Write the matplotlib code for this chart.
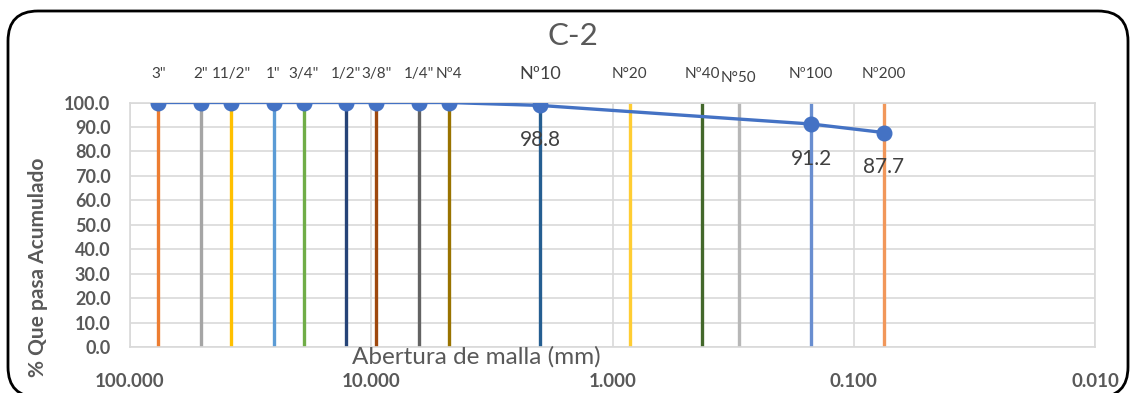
import matplotlib
matplotlib.use("Agg")
import matplotlib.pyplot as plt
from matplotlib.patches import FancyBboxPatch
from matplotlib.ticker import FixedLocator, NullLocator

# Tamices y abertura (mm)
sieve_names = ['3"', '2"', '11/2"', '1"', '3/4"', '1/2"', '3/8"', '1/4"', 'Nº4',
               'Nº10', 'N°20', 'Nº40', 'N°50', 'Nº100', 'Nº200']
sieve_mm = [76.2, 50.8, 38.1, 25.4, 19.05, 12.7, 9.525, 6.35, 4.76,
            2.0, 0.85, 0.425, 0.3, 0.15, 0.075]
sieve_colors = ['#ED7D31', '#A5A5A5', '#FFC000', '#5B9BD5', '#70AD47', '#264478',
                '#9E480E', '#636363', '#997300', '#255E91', '#FFCD33', '#43682B',
                '#B7B7B7', '#698ED0', '#F1975A']

# Curva granulometrica C-2
curve_mm = [76.2, 50.8, 38.1, 25.4, 19.05, 12.7, 9.525, 6.35, 4.76, 2.0, 0.15, 0.075]
curve_pass = [100.0, 100.0, 100.0, 100.0, 100.0, 100.0, 100.0, 100.0, 100.0, 98.8, 91.2, 87.7]
labeled_mm = [2.0, 0.15, 0.075]
labeled_pass = [98.8, 91.2, 87.7]

x_ticks = [100, 10, 1, 0.1, 0.01]
y_ticks = [0, 10, 20, 30, 40, 50, 60, 70, 80, 90, 100]

plt.rcParams['font.family'] = ['Lato', 'DejaVu Sans']

W, H = 1131, 393
fig = plt.figure(figsize=(W / 100, H / 100), dpi=100)

# capa de fondo en pixeles para el marco
bg = fig.add_axes([0, 0, 1, 1])
bg.set_xlim(0, W)
bg.set_ylim(0, H)
bg.axis('off')
bg.add_patch(FancyBboxPatch((8, -4), 1120, H - 11 + 4,
                            boxstyle='round,pad=0,rounding_size=30',
                            fill=False, ec='black', lw=2, clip_on=False))

ax = fig.add_axes([130 / W, 1 - 347 / H, 965 / W, 244.5 / H])
ax.patch.set_alpha(0)

grid_c = '#D9D9D9'
ax.set_xscale('log')
ax.set_xlim(100, 0.01)
ax.set_ylim(0, 100)
ax.xaxis.set_major_locator(FixedLocator(x_ticks))
ax.xaxis.set_minor_locator(NullLocator())
ax.set_yticks(y_ticks)
ax.set_xticklabels([f'{v:.3f}' for v in x_ticks])
ax.set_yticklabels([f'{v:.1f}' for v in y_ticks])
ax.grid(True, color=grid_c, lw=1.2)
for s in ax.spines.values():
    s.set_color(grid_c)
    s.set_linewidth(1.2)
ax.tick_params(length=0, colors='#595959')
ax.tick_params(axis='x', pad=19, labelsize=13.5)
ax.tick_params(axis='y', pad=14, labelsize=13)
for t in ax.get_xticklabels() + ax.get_yticklabels():
    t.set_fontweight('bold')

# lineas verticales de cada tamiz
for mm, c in zip(sieve_mm, sieve_colors):
    ax.vlines(mm, 0, 100, color=c, lw=2.4, zorder=2)

for name, mm in zip(sieve_names, sieve_mm):
    y = 110.0 if name == 'N°50' else 111.7
    size = 13 if name == 'Nº10' else 11
    ax.text(mm, y, name, ha='center', va='center', fontsize=size,
            color='#404040', clip_on=False)

ax.plot(curve_mm, curve_pass, color='#4472C4', lw=2.4, marker='o',
        markersize=10.5, zorder=3)

for mm, p in zip(labeled_mm, labeled_pass):
    ax.annotate(f'{p:.1f}', (mm, p), xytext=(0, -25), textcoords='offset points',
                ha='center', va='center', fontsize=15, color='#404040')

fig.text(573 / W, 1 - 36 / H, 'C-2', ha='center', va='center',
         fontsize=22.5, color='#595959')
fig.text(476 / W, 1 - 357 / H, 'Abertura de malla (mm)', ha='center', va='center',
         fontsize=17.5, color='#595959')
fig.text(38 / W, 1 - 267 / H, '% Que pasa Acumulado', ha='center', va='center',
         rotation=90, fontsize=15, fontweight='bold', color='#595959')

fig.savefig('out.png', dpi=100)
